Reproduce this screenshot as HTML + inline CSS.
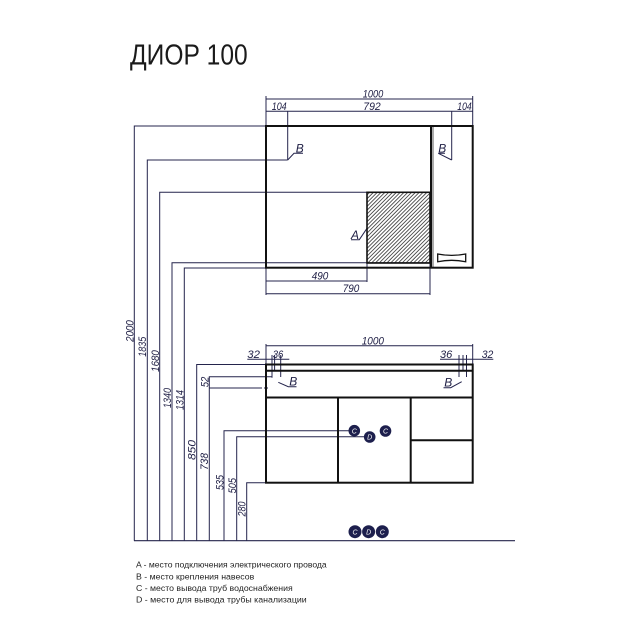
<!DOCTYPE html>
<html><head><meta charset="utf-8"><style>
html,body{margin:0;padding:0;background:#fff;}
svg{display:block;}
</style></head><body>
<svg width="632" height="632" viewBox="0 0 632 632" xmlns="http://www.w3.org/2000/svg">
<defs>
<pattern id="h" patternUnits="userSpaceOnUse" width="2.7" height="10" patternTransform="rotate(45)">
<line x1="0.5" y1="0" x2="0.5" y2="10" stroke="#333" stroke-width="0.8"/>
</pattern>
</defs>
<rect width="632" height="632" fill="#fff"/>

<!-- Title -->
<text x="130" y="64.3" font-family="Liberation Sans, sans-serif" font-size="29" fill="#1a1a1a" textLength="117.7" lengthAdjust="spacingAndGlyphs">ДИОР 100</text>

<!-- dimension / leader lines -->
<g stroke="#24244c" stroke-width="1" fill="none">
<!-- upper dims -->
<line x1="266" y1="99" x2="472.7" y2="99"/>
<line x1="266" y1="96" x2="266" y2="126"/>
<line x1="472.7" y1="96" x2="472.7" y2="126"/>
<line x1="266" y1="111.3" x2="472.7" y2="111.3"/>
<line x1="287.7" y1="111.3" x2="287.7" y2="160"/>
<line x1="451.7" y1="111.3" x2="451.7" y2="160"/>
<!-- B leaders upper -->
<polyline points="287.7,160 294,153.3 303,153.3"/>
<polyline points="451.7,160 438.3,153.3 445,153.3"/>
<!-- A leader -->
<polyline points="367,228.3 359.3,239.7 351,239.7"/>
<!-- 490 / 790 -->
<line x1="266" y1="281" x2="367" y2="281"/>
<line x1="266" y1="293.7" x2="430" y2="293.7"/>
<line x1="266" y1="268" x2="266" y2="295"/>
<line x1="367" y1="263" x2="367" y2="282"/>
<line x1="430" y1="263" x2="430" y2="295"/>

<!-- left verticals -->
<polyline points="266,126 134.3,126 134.3,540.7"/>
<polyline points="287.7,160 147.3,160 147.3,540.7"/>
<polyline points="367,192.3 159.7,192.3 159.7,540.7"/>
<polyline points="430,262.7 172,262.7 172,540.7"/>
<polyline points="266,268 184.3,268 184.3,540.7"/>
<polyline points="266,364.5 196.7,364.5 196.7,540.7"/>
<polyline points="272,376.7 209.3,376.7 209.3,540.7"/>
<line x1="209.3" y1="388" x2="262" y2="388"/>
<line x1="264" y1="388" x2="268" y2="388"/>
<polyline points="354,430.7 224,430.7 224,540.7"/>
<polyline points="369.7,436.7 236.7,436.7 236.7,540.7"/>
<polyline points="266,482.7 246.7,482.7 246.7,540.7"/>
<!-- floor -->
<line x1="134" y1="540.7" x2="515" y2="540.7" stroke-width="1.2"/>

<!-- lower dims -->
<line x1="266" y1="345.7" x2="472.7" y2="345.7"/>
<line x1="266" y1="344" x2="266" y2="365"/>
<line x1="472.7" y1="344" x2="472.7" y2="365"/>
<line x1="247.3" y1="359.3" x2="289.3" y2="359.3"/>
<line x1="440" y1="359.3" x2="493.3" y2="359.3"/>
<line x1="272" y1="355" x2="272" y2="377.7"/>
<line x1="274.6" y1="355" x2="274.6" y2="371"/>
<line x1="280.7" y1="355" x2="280.7" y2="377"/>
<line x1="459" y1="355" x2="459" y2="377"/>
<line x1="463" y1="355" x2="463" y2="371"/>
<line x1="466.5" y1="355" x2="466.5" y2="377"/>
<!-- B leaders lower -->
<polyline points="278.3,382.3 288.3,386.7 296.5,386.7"/>
<polyline points="461.7,381.7 450.7,387.7 443.5,387.7"/>
</g>

<!-- upper cabinet -->
<g stroke="#111" fill="none">
<rect x="367" y="192.3" width="63" height="70.7" fill="url(#h)" stroke-width="1.6"/>
<rect x="266" y="126" width="206.7" height="141.7" stroke-width="2"/>
<line x1="431" y1="126" x2="431" y2="267.7" stroke-width="2"/>
<line x1="433" y1="126" x2="433" y2="267.7" stroke-width="0.7"/>
<path d="M437.7,254 Q451.7,256.8 465.7,254 L465.7,261.7 Q451.7,258.9 437.7,261.7 Z" stroke-width="1.3"/>
</g>

<!-- lower cabinet -->
<g stroke="#111" fill="none" stroke-width="2">
<rect x="266" y="364.5" width="206.7" height="118.2"/>
<line x1="266" y1="370.7" x2="472.7" y2="370.7"/>
<line x1="266" y1="397.5" x2="472.7" y2="397.5"/>
<line x1="338" y1="397.5" x2="338" y2="482.7"/>
<line x1="410.7" y1="397.5" x2="410.7" y2="482.7"/>
<line x1="410.7" y1="440.3" x2="472.7" y2="440.3"/>
</g>

<!-- circles -->
<g fill="#1d1f4d">
<circle cx="354.3" cy="430.7" r="5.8"/>
<circle cx="385.5" cy="431" r="5.8"/>
<circle cx="369.7" cy="437" r="5.8"/>
<circle cx="355" cy="531.7" r="6.5"/>
<circle cx="382.3" cy="531.7" r="6.5"/>
<circle cx="368.6" cy="531.7" r="6.5"/>
</g>
<g font-family="Liberation Sans, sans-serif" font-style="italic" font-size="7" fill="#fff" text-anchor="middle">
<text x="354.3" y="433.3">C</text>
<text x="385.5" y="433.6">C</text>
<text x="369.7" y="439.6">D</text>
<text x="355" y="534.4">C</text>
<text x="368.6" y="534.4">D</text>
<text x="382.3" y="534.4">C</text>
</g>

<!-- dimension texts -->
<g font-family="Liberation Sans, sans-serif" font-style="italic" font-size="11" fill="#1e1e44">
<text x="362.7" y="97.5" textLength="20.6" lengthAdjust="spacingAndGlyphs">1000</text>
<text x="271.7" y="109.8" textLength="15" lengthAdjust="spacingAndGlyphs">104</text>
<text x="363.3" y="109.8" textLength="17.4" lengthAdjust="spacingAndGlyphs">792</text>
<text x="457.3" y="109.8" textLength="14.4" lengthAdjust="spacingAndGlyphs">104</text>
<text x="311.7" y="279.5" textLength="16.6" lengthAdjust="spacingAndGlyphs">490</text>
<text x="342.7" y="292.2" textLength="16.6" lengthAdjust="spacingAndGlyphs">790</text>
<text x="361.7" y="344.3" textLength="22.3" lengthAdjust="spacingAndGlyphs">1000</text>
<text x="247.3" y="358" textLength="12.7" lengthAdjust="spacingAndGlyphs">32</text>
<text x="272.7" y="358" textLength="10.6" lengthAdjust="spacingAndGlyphs">36</text>
<text x="440" y="358" textLength="12.3" lengthAdjust="spacingAndGlyphs">36</text>
<text x="481.7" y="358" textLength="11.6" lengthAdjust="spacingAndGlyphs">32</text>
</g>
<g font-family="Liberation Sans, sans-serif" font-style="italic" font-size="12" fill="#1e1e44">
<text x="295.7" y="152.5">B</text>
<text x="438.3" y="152.5">B</text>
<text x="351" y="239">A</text>
<text x="289.3" y="385.6">B</text>
<text x="444.3" y="386.5">B</text>
</g>

<!-- rotated dimension texts -->
<g font-family="Liberation Sans, sans-serif" font-style="italic" font-size="11" fill="#1e1e44" text-anchor="middle">
<text transform="translate(133.5,331) rotate(-90)" textLength="21.7" lengthAdjust="spacingAndGlyphs">2000</text>
<text transform="translate(146,346.7) rotate(-90)" textLength="20" lengthAdjust="spacingAndGlyphs">1835</text>
<text transform="translate(158.8,361) rotate(-90)" textLength="21.7" lengthAdjust="spacingAndGlyphs">1680</text>
<text transform="translate(171.2,398) rotate(-90)" textLength="20" lengthAdjust="spacingAndGlyphs">1340</text>
<text transform="translate(183.6,400) rotate(-90)" textLength="20" lengthAdjust="spacingAndGlyphs">1314</text>
<text transform="translate(195.6,450) rotate(-90)" textLength="20" lengthAdjust="spacingAndGlyphs">850</text>
<text transform="translate(207.8,461.5) rotate(-90)" textLength="17" lengthAdjust="spacingAndGlyphs">738</text>
<text transform="translate(208.6,382) rotate(-90)" textLength="10.6" lengthAdjust="spacingAndGlyphs">52</text>
<text transform="translate(223.3,482.5) rotate(-90)" textLength="15" lengthAdjust="spacingAndGlyphs">535</text>
<text transform="translate(236,485.7) rotate(-90)" textLength="15.3" lengthAdjust="spacingAndGlyphs">505</text>
<text transform="translate(245.6,509) rotate(-90)" textLength="15" lengthAdjust="spacingAndGlyphs">280</text>
</g>

<!-- legend -->
<g font-family="Liberation Sans, sans-serif" font-size="8.6" fill="#1f1f1f">
<text x="136" y="567.7" textLength="190.7" lengthAdjust="spacingAndGlyphs">A - место подключения электрического провода</text>
<text x="136" y="579.3" textLength="118.3" lengthAdjust="spacingAndGlyphs">B - место крепления навесов</text>
<text x="136" y="591" textLength="156.7" lengthAdjust="spacingAndGlyphs">C - место вывода труб водоснабжения</text>
<text x="136" y="602.7" textLength="170.7" lengthAdjust="spacingAndGlyphs">D - место для вывода трубы канализации</text>
</g>
</svg>
</body></html>
